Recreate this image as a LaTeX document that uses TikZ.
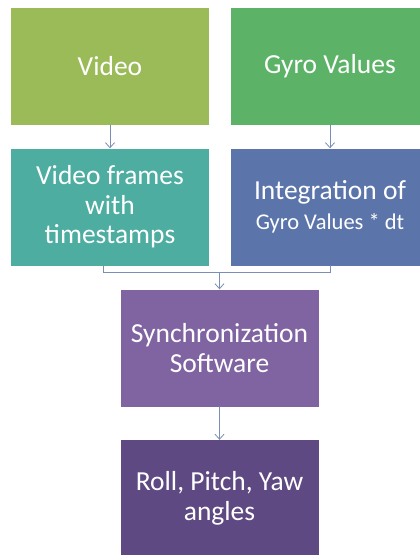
\documentclass[tikz,border=0pt]{standalone}
\usepackage{fontspec}
\setmainfont{Carlito}
\usepackage{tikz}
\usetikzlibrary{arrows.meta}

\begin{document}
\begin{tikzpicture}
		[x=1pt,y=-1pt,line cap=round,
		%Styles
		>={Straight Barb[length=5pt,width=9pt]},
		link/.style={draw=linkcolor,line width=0.8pt},
		box/.style={rectangle,text=white,minimum width=198pt,minimum height=117pt,inner sep=0pt,align=center,font=\fontsize{27.5}{29.5}\selectfont},
		]
		
		%Colors
		\definecolor{linkcolor}{RGB}{122,142,182}
		\definecolor{videocolor}{RGB}{155,187,89}
		\definecolor{gyrocolor}{RGB}{92,179,104}
		\definecolor{framecolor}{RGB}{76,173,160}
		\definecolor{integcolor}{RGB}{91,117,170}
		\definecolor{synccolor}{RGB}{128,100,162}
		\definecolor{anglecolor}{RGB}{95,73,131}
		
		\useasboundingbox[fill=white] (0,0) rectangle (420,555);
		
		%The graphic
		\node[box,fill=videocolor] (video) at (110, 66.5) {Video};
		\node[box,fill=gyrocolor] (gyro) at (330, 66.5) {Gyro Values};
		\node[box,fill=framecolor] (frames) at (110, 207) {Video frames\\with\\timestamps};
		\node[box,fill=integcolor] (integ) at (330, 207) {Integration of\\{\fontsize{22.5}{23}\selectfont Gyro Values * dt}};
		\node[box,fill=synccolor] (sync) at (219.5, 348) {Synchronization\\Software};
		\node[box,fill=anglecolor] (angles) at (219.5, 498.5) {Roll, Pitch, Yaw\\angles};
		\coordinate (join) at (219.5, 273);
		
		\path[link]
			(video)	edge[->]	(frames)
			(gyro)	edge[->]	(integ)
			(join)	edge[->]	(sync)
			(sync)	edge[->]	(angles);
		\draw[link] ([xshift=-7pt]frames.south) -- ++(0,7) -| (integ.south);
	\end{tikzpicture}
\end{document}
